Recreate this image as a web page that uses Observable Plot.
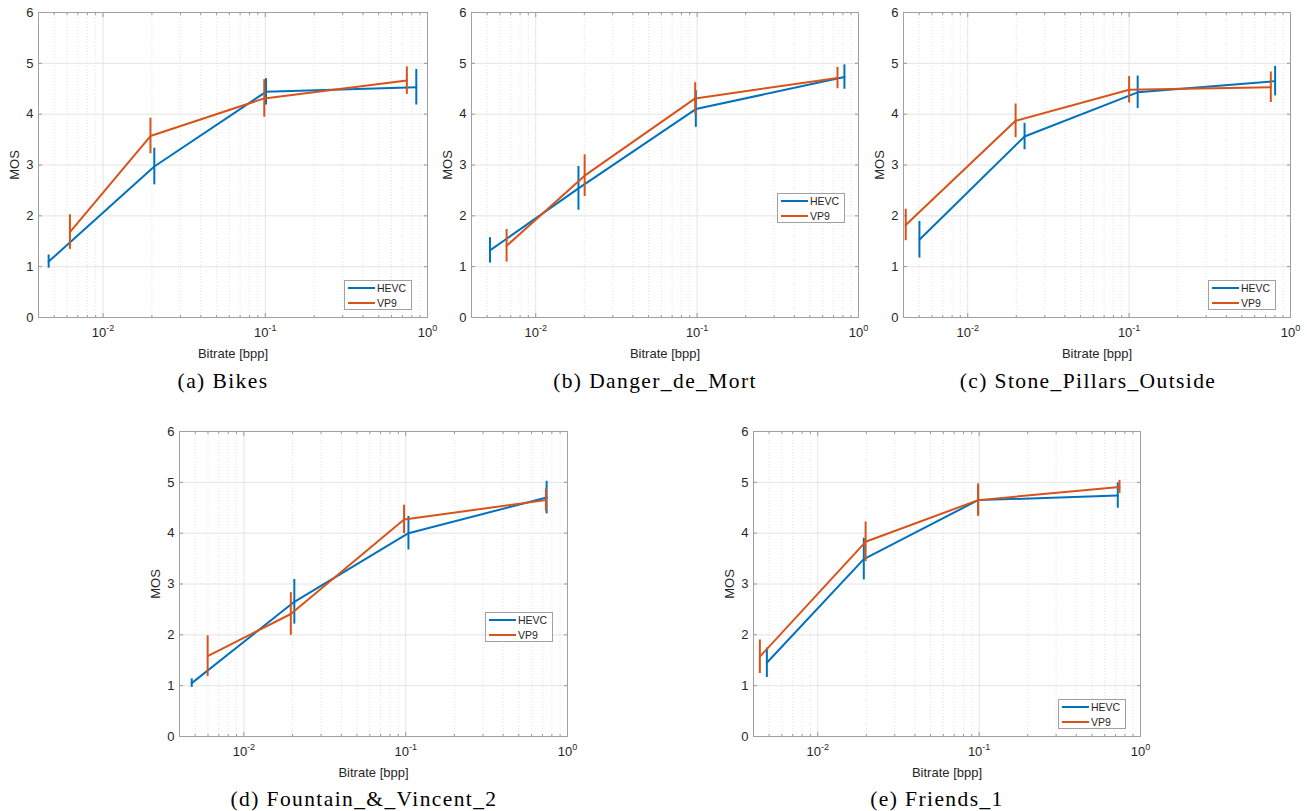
<!DOCTYPE html>
<html><head><meta charset="utf-8">
<script src="https://cdn.jsdelivr.net/npm/d3@7"></script>
<script src="https://cdn.jsdelivr.net/npm/@observablehq/plot@0.6"></script>
<style>
body{margin:0;background:#fff;}
#root{position:relative;width:1307px;height:811px;overflow:hidden;background:#fff;}
.panel{position:absolute;}
.cap{position:absolute;font-family:"Liberation Serif","DejaVu Serif",serif;font-size:21.5px;letter-spacing:1.4px;color:#000;white-space:nowrap;transform:translate(-50%,-50%);}
.legend{position:absolute;border:1px solid #a0a0a0;background:#fff;font:10.5px "Liberation Sans",Arial,sans-serif;color:#262626;box-sizing:border-box;}
.legend .row{position:absolute;left:0;height:14px;line-height:14px;white-space:nowrap;}
.legend .sw{position:absolute;left:3px;top:6px;width:27px;height:2px;}
.legend .lab{position:absolute;left:32px;top:0;}
</style></head><body><div id="root"></div><script>
// ---- data ----
const seriesNames = ["HEVC", "VP9"];
const seriesColors = ["#0072BD", "#D95319"];
const xTicks = [0.01, 0.1, 1];
const yTicks = [0, 1, 2, 3, 4, 5, 6];

// (a) Bikes
const bikesHevcRate = [0.00462, 0.0207, 0.101, 0.853];
const bikesHevcMos  = [1.10, 2.97, 4.44, 4.53];
const bikesHevcCi   = [0.13, 0.36, 0.26, 0.35];
const bikesVp9Rate  = [0.00625, 0.0196, 0.0986, 0.746];
const bikesVp9Mos   = [1.68, 3.57, 4.31, 4.66];
const bikesVp9Ci    = [0.34, 0.35, 0.37, 0.27];
// (b) Danger_de_Mort
const dangerHevcRate = [0.00521, 0.0184, 0.0982, 0.818];
const dangerHevcMos  = [1.32, 2.54, 4.10, 4.73];
const dangerHevcCi   = [0.25, 0.43, 0.36, 0.24];
const dangerVp9Rate  = [0.0066, 0.0201, 0.0973, 0.741];
const dangerVp9Mos   = [1.41, 2.79, 4.31, 4.71];
const dangerVp9Ci    = [0.32, 0.41, 0.31, 0.21];
// (c) Stone_Pillars_Outside
const stoneHevcRate = [0.00502, 0.0225, 0.113, 0.803];
const stoneHevcMos  = [1.53, 3.56, 4.43, 4.65];
const stoneHevcCi   = [0.36, 0.26, 0.32, 0.29];
const stoneVp9Rate  = [0.00413, 0.0198, 0.100, 0.755];
const stoneVp9Mos   = [1.82, 3.87, 4.48, 4.53];
const stoneVp9Ci    = [0.31, 0.33, 0.26, 0.30];
// (d) Fountain_&_Vincent_2
const fountainHevcRate = [0.00476, 0.0205, 0.104, 0.743];
const fountainHevcMos  = [1.05, 2.65, 4.00, 4.70];
const fountainHevcCi   = [0.085, 0.44, 0.33, 0.32];
const fountainVp9Rate  = [0.00597, 0.0195, 0.0977, 0.736];
const fountainVp9Mos   = [1.58, 2.41, 4.27, 4.65];
const fountainVp9Ci    = [0.40, 0.42, 0.28, 0.22];
// (e) Friends_1
const friendsHevcRate = [0.00484, 0.0193, 0.0986, 0.723];
const friendsHevcMos  = [1.45, 3.49, 4.65, 4.74];
const friendsHevcCi   = [0.29, 0.41, 0.28, 0.25];
const friendsVp9Rate  = [0.00438, 0.0198, 0.0986, 0.741];
const friendsVp9Mos   = [1.57, 3.83, 4.65, 4.91];
const friendsVp9Ci    = [0.33, 0.39, 0.32, 0.13];

const captions = ["(a) Bikes", "(b) Danger_de_Mort", "(c) Stone_Pillars_Outside", "(d) Fountain_&_Vincent_2", "(e) Friends_1"];

// ---- layout (page pixels) ----
const panels = [
  {cap: captions[0], frame: [38, 427, 12, 317], legend: [344, 280], capPos: [223, 381],
   series: [[bikesHevcRate, bikesHevcMos, bikesHevcCi], [bikesVp9Rate, bikesVp9Mos, bikesVp9Ci]]},
  {cap: captions[1], frame: [471, 858, 12, 317], legend: [777, 193], capPos: [655, 381],
   series: [[dangerHevcRate, dangerHevcMos, dangerHevcCi], [dangerVp9Rate, dangerVp9Mos, dangerVp9Ci]]},
  {cap: captions[2], frame: [903, 1290, 12, 317], legend: [1208, 280], capPos: [1088, 381],
   series: [[stoneHevcRate, stoneHevcMos, stoneHevcCi], [stoneVp9Rate, stoneVp9Mos, stoneVp9Ci]]},
  {cap: captions[3], frame: [179, 567, 431, 736], legend: [485, 612], capPos: [364, 799],
   series: [[fountainHevcRate, fountainHevcMos, fountainHevcCi], [fountainVp9Rate, fountainVp9Mos, fountainVp9Ci]]},
  {cap: captions[4], frame: [753, 1140, 431, 736], legend: [1058, 699], capPos: [937, 799],
   series: [[friendsHevcRate, friendsHevcMos, friendsHevcCi], [friendsVp9Rate, friendsVp9Mos, friendsVp9Ci]]}
];

const minorX = [];
for (const e of [-3, -2, -1]) for (let m = 2; m <= 9; m++) {
  const v = m * Math.pow(10, e);
  if (v >= 0.004 && v < 1) minorX.push(v);
}

const root = document.getElementById("root");
const ML = 45, MT = 12, MR = 15, MB = 45;

for (const p of panels) {
  const [x0, x1, y0, y1] = p.frame;
  const rows = [];
  p.series.forEach(([rate, mos, ci], s) => {
    rate.forEach((r, i) => rows.push({series: seriesNames[s], rate: r, mos: mos[i], lo: mos[i] - ci[i], hi: mos[i] + ci[i]}));
  });
  const marks = [
    Plot.ruleX(minorX, {stroke: "#e2e2e2", strokeDasharray: "1,2"}),
    Plot.gridX({ticks: [0.01, 0.1], stroke: "#e4e4e4", strokeOpacity: 1}),
    Plot.gridY({ticks: yTicks, stroke: "#e4e4e4", strokeOpacity: 1}),
    // inward minor/major ticks
    Plot.axisX({anchor: "bottom", ticks: minorX, tickSize: 2, dy: -2, text: null, label: null, stroke: "#999"}),
    Plot.axisX({anchor: "top", ticks: minorX, tickSize: 2, dy: 2, text: null, label: null, stroke: "#999"}),
    Plot.axisX({anchor: "bottom", ticks: xTicks, tickSize: 4, dy: -4, text: null, label: null, stroke: "#999"}),
    Plot.axisX({anchor: "top", ticks: xTicks, tickSize: 4, dy: 4, text: null, label: null, stroke: "#999"}),
    Plot.axisY({anchor: "left", ticks: yTicks, tickSize: 4, dx: 4, text: null, label: null, stroke: "#999"}),
    Plot.axisY({anchor: "right", ticks: yTicks, tickSize: 4, dx: -4, text: null, label: null, stroke: "#999"}),
    // labelled axes
    Plot.axisX({anchor: "bottom", ticks: xTicks, tickSize: 0, tickPadding: 10,
      tickFormat: d => "10^" + Math.round(Math.log10(d)),
      label: "Bitrate [bpp]", labelAnchor: "center", labelArrow: "none", labelOffset: 40, fill: "#262626"}),
    Plot.axisY({anchor: "left", ticks: yTicks, tickSize: 0, tickPadding: 5, tickFormat: d => String(d),
      label: "MOS", labelAnchor: "center", labelArrow: "none", labelOffset: 29, fill: "#262626"}),
    Plot.frame({stroke: "#a0a0a0"})
  ];
  seriesNames.forEach((name, s) => {
    const d = rows.filter(r => r.series === name);
    marks.push(Plot.line(d, {x: "rate", y: "mos", stroke: seriesColors[s], strokeWidth: 2}));
    marks.push(Plot.ruleX(d, {x: "rate", y1: "lo", y2: "hi", stroke: seriesColors[s], strokeWidth: 2}));
  });
  const chart = Plot.plot({
    width: (x1 - x0) + ML + MR,
    height: (y1 - y0) + MT + MB,
    marginLeft: ML, marginRight: MR, marginTop: MT, marginBottom: MB,
    style: {fontFamily: '"Liberation Sans", Arial, sans-serif', fontSize: "13px", color: "#262626", background: "transparent", overflow: "visible"},
    x: {type: "log", domain: [0.004, 1]},
    y: {domain: [0, 6]},
    marks
  });
  chart.classList.add("panel");
  chart.style.left = (x0 - ML) + "px";
  chart.style.top = (y0 - MT) + "px";
  root.appendChild(chart);

  // superscript exponents on the x tick labels
  chart.querySelectorAll('g[aria-label="x-axis tick label"] text').forEach(t => {
    const txt = t.textContent;
    if (!txt.startsWith("10^")) return;
    const exp = txt.slice(3);
    t.textContent = "10";
    const ts = document.createElementNS("http://www.w3.org/2000/svg", "tspan");
    ts.setAttribute("dy", "-0.6em");
    ts.setAttribute("font-size", "9px");
    ts.textContent = exp;
    t.appendChild(ts);
  });

  // legend
  const lg = document.createElement("div");
  lg.className = "legend";
  lg.style.left = p.legend[0] + "px";
  lg.style.top = p.legend[1] + "px";
  lg.style.width = "68px";
  lg.style.height = "30px";
  seriesNames.forEach((name, s) => {
    const row = document.createElement("div");
    row.className = "row";
    row.style.top = (s === 0 ? 0 : 15) + "px";
    row.innerHTML = `<div class="sw" style="background:${seriesColors[s]}"></div><div class="lab">${name}</div>`;
    lg.appendChild(row);
  });
  root.appendChild(lg);

  // caption
  const cap = document.createElement("div");
  cap.className = "cap";
  cap.textContent = p.cap;
  cap.style.left = p.capPos[0] + "px";
  cap.style.top = p.capPos[1] + "px";
  root.appendChild(cap);
}
</script></body></html>
